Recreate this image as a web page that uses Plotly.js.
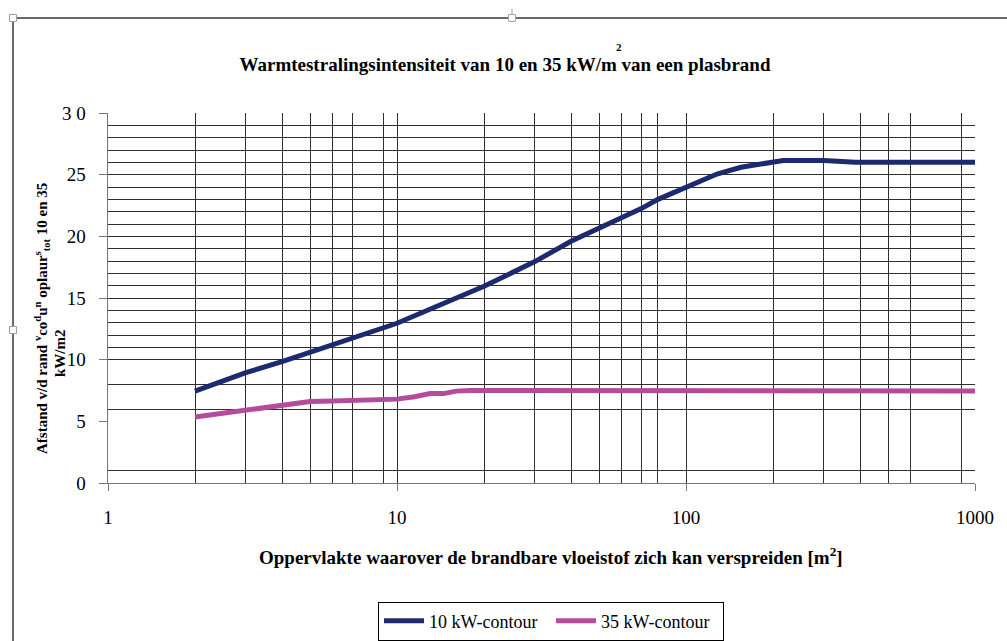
<!DOCTYPE html>
<html>
<head>
<meta charset="utf-8">
<script src="https://cdn.plot.ly/plotly-3.0.1.min.js"></script>
<style>html,body{margin:0;padding:0;background:#fff;}#chart{width:1007px;height:641px;}</style>
</head>
<body>
<div id="chart"></div>
<script>
// ---- data ----
var area10 = [2, 3, 4, 5, 6, 7, 9, 10, 20, 30, 40, 50, 60, 70, 80, 100, 128, 155, 200, 217, 300, 360, 385, 1000];
var dist10 = [7.45, 8.95, 9.85, 10.6, 11.3, 11.8, 12.6, 12.95, 15.95, 17.95, 19.6, 20.65, 21.55, 22.25, 23.0, 24.0, 25.05, 25.6, 26.0, 26.15, 26.15, 26.1, 26.0, 26.0];
var area35 = [2, 3, 4, 5, 6, 7, 9, 10, 11.5, 13, 14.5, 16, 18, 1000];
var dist35 = [5.35, 5.9, 6.25, 6.6, 6.65, 6.7, 6.7, 6.8, 7.0, 7.25, 7.25, 7.45, 7.5, 7.45];
var seriesNames = ['10 kW-contour', '35 kW-contour'];

var xTickVals = [1, 10, 100, 1000];
var xTickText = ['1', '10', '100', '1000'];
var yTickVals = [0, 5, 10, 15, 20, 25, 30];
var yTickText = ['0', '5', '10', '15', '20', '25', '3 0'];
var xGridVals = [2, 3, 4, 5, 6, 7, 9, 10, 20, 30, 40, 50, 60, 70, 80, 100, 200, 300, 400, 500, 600, 900, 1000];
var yGridVals = [1, 6, 8, 10, 11, 12, 13, 14, 15, 16, 17, 18, 19, 20, 21, 22, 23, 24, 25, 26, 27, 28, 29, 30];

var serif = 'Liberation Serif';
var gridCol = '#2e2e2e';

var traces = [
  {x: area10, y: dist10, name: seriesNames[0], type: 'scatter', mode: 'lines',
   line: {color: '#1c2a70', width: 5}},
  {x: area35, y: dist35, name: seriesNames[1], type: 'scatter', mode: 'lines',
   line: {color: '#b44c9c', width: 5}}
];

// helpers for paper coords from pixel positions (plot area 108..975 x 113..483)
function px(v){ return (v - 108) / 867; }
function py(v){ return (483 - v) / 370; }
function handle(cx, cy){
  return {type:'rect', xref:'paper', yref:'paper', x0:px(cx-3.5), x1:px(cx+3.5), y0:py(cy+3.5), y1:py(cy-3.5),
          line:{color:'#a0a0a0', width:1}, fillcolor:'#ffffff', layer:'above'};
}

var layout = {
  width: 1007, height: 641,
  margin: {l: 108, r: 32, t: 113, b: 158, pad: 0, autoexpand: false},
  paper_bgcolor: '#ffffff', plot_bgcolor: '#ffffff',
  showlegend: true,
  font: {family: serif, color: '#000'},
  title: {text: '<b>Warmtestralingsintensiteit van 10 en 35 kW/m van een plasbrand</b>',
          font: {family: serif, size: 19, color: '#000'},
          xref: 'paper', x: px(505), xanchor: 'center',
          yref: 'container', y: (641 - 64) / 641, yanchor: 'middle'},
  xaxis: {type: 'log', range: [0, 3], tickmode: 'array', tickvals: xTickVals, ticktext: xTickText,
          ticks: 'outside', ticklen: 7, tickcolor: '#777', tickwidth: 1,
          ticklabelstandoff: 10,
          showgrid: false, zeroline: false, showline: true, linecolor: '#777', linewidth: 1,
          tickfont: {family: serif, size: 19, color: '#000'},
          minor: {tickmode: 'array', tickvals: xGridVals, showgrid: true, gridcolor: gridCol, gridwidth: 1, ticks: ''}},
  yaxis: {range: [0, 30], tickmode: 'array', tickvals: yTickVals,
          ticktext: yTickText.map(function(t){ return t + '\u00a0\u00a0'; }),
          ticks: 'outside', ticklen: 8, tickcolor: '#777', tickwidth: 1,
          showgrid: false, zeroline: false, showline: true, linecolor: '#777', linewidth: 1,
          tickfont: {family: serif, size: 19, color: '#000'},
          minor: {tickmode: 'array', tickvals: yGridVals, showgrid: true, gridcolor: gridCol, gridwidth: 1, ticks: ''}},
  legend: {orientation: 'h', xref: 'paper', yref: 'paper', x: px(551), xanchor: 'center', y: py(621), yanchor: 'middle',
           bordercolor: '#000', borderwidth: 1, bgcolor: '#fff',
           font: {family: serif, size: 18, color: '#000'}, itemwidth: 40, tracegroupgap: 0,
           entrywidth: 117, entrywidthmode: 'pixels'},
  annotations: [
    {xref: 'paper', yref: 'paper', x: px(619), y: py(47), text: '<b>2</b>', showarrow: false,
     font: {family: serif, size: 11, color: '#000'}, xanchor: 'center', yanchor: 'middle'},
    {xref: 'paper', yref: 'paper', x: px(551), y: py(556), showarrow: false, xanchor: 'center', yanchor: 'middle',
     text: '<b>Oppervlakte waarover de brandbare vloeistof zich kan verspreiden [m<sup>2</sup>]</b>',
     font: {family: serif, size: 19, color: '#000'}},
    {xref: 'paper', yref: 'paper', x: px(42), y: py(319), showarrow: false, textangle: -90,
     xanchor: 'center', yanchor: 'middle',
     text: '<b>Afstand v/d rand <sup>v</sup>co<sup>d</sup>u<sup>n</sup> oplaur<sup>s</sup><sub>tot</sub> 10 en 35</b>',
     font: {family: serif, size: 15, color: '#000'}},
    {xref: 'paper', yref: 'paper', x: px(60), y: py(353), showarrow: false, textangle: -90,
     xanchor: 'center', yanchor: 'middle', text: '<b>kW/m2</b>',
     font: {family: serif, size: 15, color: '#000'}}
  ],
  shapes: [
    {type: 'line', xref: 'paper', yref: 'paper', x0: px(10), x1: px(1007), y0: py(18), y1: py(18),
     line: {color: '#6a6a6a', width: 2}, layer: 'above'},
    {type: 'line', xref: 'paper', yref: 'paper', x0: px(13), x1: px(13), y0: py(18), y1: py(641),
     line: {color: '#6a6a6a', width: 2}, layer: 'above'},
    {type: 'line', xref: 'paper', yref: 'paper', x0: px(512), x1: px(512), y0: py(9), y1: py(18),
     line: {color: '#a0a0a0', width: 1}, layer: 'above'},
    handle(13, 18), handle(512, 18), handle(13, 330), handle(512, 643)
  ]
};

Plotly.newPlot('chart', traces, layout, {displayModeBar: false, staticPlot: true});
</script>
</body>
</html>
